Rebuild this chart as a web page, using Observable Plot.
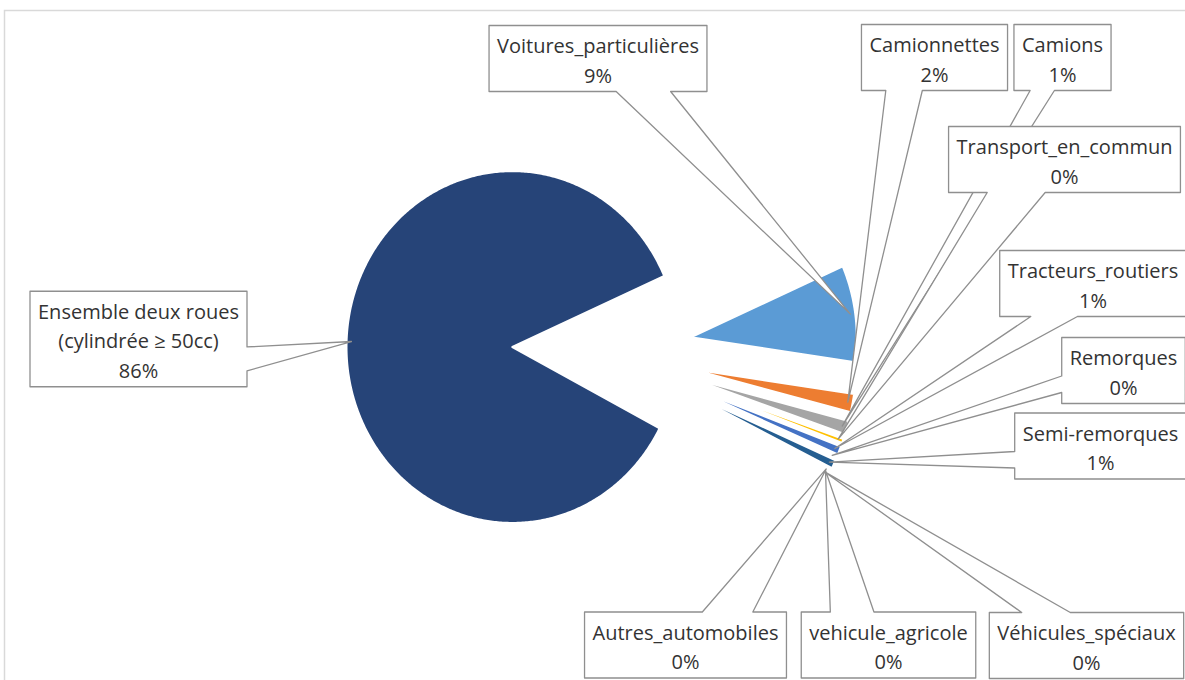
<!DOCTYPE html>
<html><head><meta charset="utf-8">
<script src="https://cdn.jsdelivr.net/npm/d3@7"></script>
<script src="https://cdn.jsdelivr.net/npm/@observablehq/plot@0.6"></script>
<style>html,body{margin:0;padding:0;background:#fff;overflow:hidden}#chart svg{display:block}</style>
</head><body><div id="chart"></div>
<script>
// ---- data ----
const categories = ["Voitures_particulières", "Camionnettes", "Camions", "Transport_en_commun", "Tracteurs_routiers", "Remorques", "Semi-remorques", "Autres_automobiles", "vehicule_agricole", "Véhicules_spéciaux", "Ensemble deux roues\n(cylindrée ≥ 50cc)"];
const shares = [8.9, 1.7, 1.25, 0.4, 0.8, 0.08, 0.8, 0.12, 0.08, 0.12, 85.75];
const colors = ["#5B9BD5", "#ED7D31", "#A5A5A5", "#FFC000", "#4472C4", "#70AD47", "#255E91", "#9E480E", "#636363", "#997300", "#264478"];

// ---- layout (not data) ----
const W = 1185, H = 680;
const CX = 601.5, CY = 349.6, RX = 166, RY = 176;
const EXPLODE = 0.54, START_DEG = 66.2;
const FONT = "Open Sans", FS = 20, LINE = 29.5, PADX = 8, PADY = 3.5;
const labelCenters = [[597.5, 58], [934, 57], [1062, 57], [1064, 159], [1092.5, 283], [1123, 370], [1100, 445.5], [685, 644.5], [888, 644.5], [1086, 645], [138, 338.5]];

const ux = px => (px - CX) / RX;
const uy = py => (CY - py) / RY;

const data = categories.map((c, i) => ({name: c, share: shares[i], color: colors[i]}));
const total = d3.sum(shares);
const a0 = START_DEG * Math.PI / 180;
const arcs = d3.pie().sort(null).value(d => d.share).startAngle(a0).endAngle(a0 + 2 * Math.PI)(data);

// slices
const slicePts = arcs.flatMap(a => {
  const mid = (a.startAngle + a.endAngle) / 2;
  const tx = EXPLODE * Math.sin(mid), ty = EXPLODE * Math.cos(mid);
  const n = Math.max(2, Math.ceil((a.endAngle - a.startAngle) / 0.01));
  const pts = [{name: a.data.name, color: a.data.color, x: tx, y: ty}];
  for (let k = 0; k <= n; k++) {
    const t = a.startAngle + (a.endAngle - a.startAngle) * k / n;
    pts.push({name: a.data.name, color: a.data.color, x: tx + Math.sin(t), y: ty + Math.cos(t)});
  }
  return pts;
});

// callouts
const ctx = document.createElement("canvas").getContext("2d");
ctx.font = `${FS}px "${FONT}"`;
const labels = arcs.map((a, i) => {
  const pct = Math.round(a.data.share / total * 100) + "%";
  const lines = [...a.data.name.split("\n"), pct];
  const w = d3.max(lines, l => ctx.measureText(l).width) + 2 * PADX;
  const h = lines.length * LINE + 2 * PADY;
  const [cx, cy] = labelCenters[i];
  const mid = (a.startAngle + a.endAngle) / 2;
  const r = EXPLODE + 0.97;
  const tipX = CX + RX * r * Math.sin(mid), tipY = CY - RY * r * Math.cos(mid);
  return {name: a.data.name, text: lines.join("\n"), cx, cy, w, h, tipX, tipY};
});

const calloutPts = labels.flatMap(L => {
  const l = L.cx - L.w / 2, r = L.cx + L.w / 2, t = L.cy - L.h / 2, b = L.cy + L.h / 2;
  const dxPos = L.tipX - L.cx, dyPos = L.tipY - L.cy;
  const horiz = Math.abs(dxPos * L.h) > Math.abs(dyPos * L.w);
  const gx = dxPos > 0 ? [7, 10] : [2, 5], gy = dyPos > 0 ? [7, 10] : [2, 5];
  const x1 = l + L.w * gx[0] / 12, x2 = l + L.w * gx[1] / 12;
  const y1 = t + L.h * gy[0] / 12, y2 = t + L.h * gy[1] / 12;
  const tip = [L.tipX, L.tipY];
  let p = [[l, t]];
  if (!horiz && dyPos < 0) p.push([x1, t], tip, [x2, t]);
  p.push([r, t]);
  if (horiz && dxPos > 0) p.push([r, y1], tip, [r, y2]);
  p.push([r, b]);
  if (!horiz && dyPos > 0) p.push([x2, b], tip, [x1, b]);
  p.push([l, b]);
  if (horiz && dxPos < 0) p.push([l, y2], tip, [l, y1]);
  return p.map(([px, py]) => ({name: L.name, x: ux(px), y: uy(py)}));
});

const chart = Plot.plot({
  width: W, height: H,
  marginTop: 10, marginLeft: 4, marginRight: 0, marginBottom: 0,
  x: {domain: [ux(0), ux(W)], range: [0, W], axis: null},
  y: {domain: [uy(H), uy(0)], range: [H, 0], axis: null},
  color: {type: "identity"},
  style: {fontFamily: `"${FONT}", sans-serif`, background: "#fff", overflow: "visible"},
  marks: [
    Plot.frame({stroke: "#D9D9D9", strokeWidth: 1.5, insetRight: -4, insetBottom: -4}),
    Plot.line(slicePts, {x: "x", y: "y", z: "name", fill: "color", stroke: "white", strokeWidth: 2.2, curve: "linear-closed"}),
    Plot.line(calloutPts, {x: "x", y: "y", z: "name", fill: "white", stroke: "#8F8F8F", strokeWidth: 1.3, curve: "linear-closed"}),
    Plot.text(labels, {x: d => ux(d.cx), y: d => uy(d.cy), text: "text", fontSize: FS, lineHeight: LINE / FS, fill: "#333333", textAnchor: "middle"})
  ]
});
document.getElementById("chart").append(chart);
</script>
</body></html>
